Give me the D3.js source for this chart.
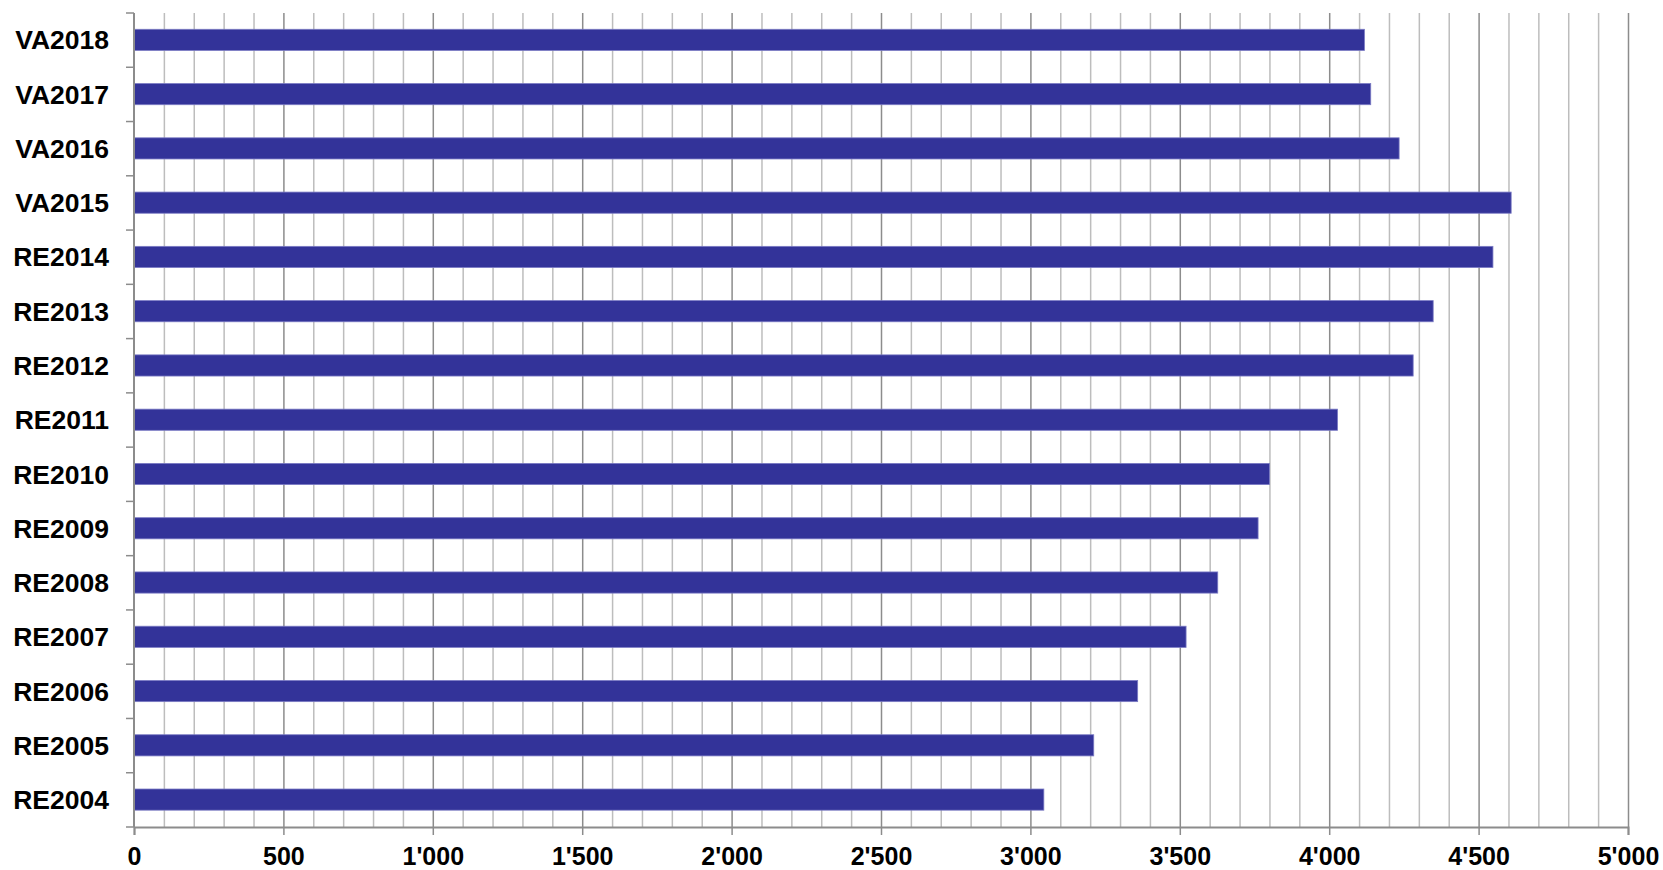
<!DOCTYPE html>
<html>
<head>
<meta charset="utf-8">
<script src="https://cdn.jsdelivr.net/npm/d3@7"></script>
<style>
  body { margin: 0; background: #fff; }
  svg text { font-family: "Liberation Sans", Arial, sans-serif; font-weight: bold; fill: #000; }
</style>
</head>
<body>
<div id="chart-area"></div>
<script>
var categories = ["VA2018", "VA2017", "VA2016", "VA2015", "RE2014", "RE2013", "RE2012",
    "RE2011", "RE2010", "RE2009", "RE2008", "RE2007", "RE2006", "RE2005", "RE2004"];
var values = [4118, 4139, 4234, 4609, 4548, 4348, 4281,
    4028, 3800, 3762, 3627, 3521, 3359, 3212, 3045];
var majorTicks = [0, 500, 1000, 1500, 2000, 2500, 3000, 3500, 4000, 4500, 5000];

var margin = {left: 134, right: 35, top: 13, bottom: 43};
var width = 1663 - margin.left - margin.right;
var height = 870 - margin.top - margin.bottom;

var svg = d3.select('#chart-area')
    .append('svg')
    .attr('width', 1663)
    .attr('height', 870);

var g = svg.append("g")
    .attr("transform", "translate(" + margin.left + ", " + margin.top + ")");

var x = d3.scaleLinear()
    .domain([0, 5000])
    .range([0, width]);

var y = d3.scaleBand()
    .domain(categories)
    .range([0, height]);

// minor gridlines every 100
var minor = d3.range(100, 5000, 100).filter((d) => d % 500 != 0);
g.selectAll('line.minor').data(minor)
    .enter().append('line')
    .attr('class', 'minor')
    .attr('x1', (d) => x(d) + 0.5)
    .attr('x2', (d) => x(d) + 0.5)
    .attr('y1', 0)
    .attr('y2', height)
    .attr('stroke', '#bdbdbd')
    .attr('stroke-width', 1.5);

// major gridlines every 500
g.selectAll('line.major').data(majorTicks.slice(1))
    .enter().append('line')
    .attr('class', 'major')
    .attr('x1', (d) => x(d) + 0.5)
    .attr('x2', (d) => x(d) + 0.5)
    .attr('y1', 0)
    .attr('y2', height)
    .attr('stroke', '#8c8c8c')
    .attr('stroke-width', 1.5);

// bars
g.selectAll('rect').data(values)
    .enter().append('rect')
    .attr('x', x(0))
    .attr('y', (d, i) => y(categories[i]) + y.bandwidth() * 0.3)
    .attr('width', (d) => x(d))
    .attr('height', y.bandwidth() * 0.39)
    .attr('fill', '#333399')
    .attr('stroke', '#7b7bc4')
    .attr('stroke-width', 0.8);

// x axis
var botAxis = d3.axisBottom(x)
    .tickValues(majorTicks)
    .tickSize(8)
    .tickPadding(12)
    .tickFormat((d) => d3.format(",")(d).replace(/,/g, "'"));

var xg = g.append("g")
    .attr("class", "bottom axis")
    .attr("transform", "translate(0, " + height + ")")
    .call(botAxis);
xg.select(".domain").attr("stroke", "#8c8c8c").attr("stroke-width", 2);
xg.selectAll(".tick line").attr("stroke", "#8c8c8c").attr("stroke-width", 1.5);
xg.selectAll("text").attr("font-size", "25px").attr("fill", "#000");

// y axis: ticks at band boundaries
var yg = g.append("g").attr("class", "left axis");
yg.append("line")
    .attr("x1", 0).attr("x2", 0)
    .attr("y1", 0).attr("y2", height)
    .attr("stroke", "#8c8c8c")
    .attr("stroke-width", 2);
var bounds = categories.map((c) => y(c)).concat([height]);
yg.selectAll("line.tick").data(bounds)
    .enter().append("line")
    .attr("class", "tick")
    .attr("x1", -8).attr("x2", 0)
    .attr("y1", (d) => d).attr("y2", (d) => d)
    .attr("stroke", "#8c8c8c")
    .attr("stroke-width", 1.5);
yg.selectAll("text").data(categories)
    .enter().append("text")
    .attr("x", -25)
    .attr("y", (d) => y(d) + y.bandwidth() / 2)
    .attr("dy", "0.35em")
    .attr("text-anchor", "end")
    .attr("font-size", "26.5px")
    .text((d) => d);
</script>
</body>
</html>
